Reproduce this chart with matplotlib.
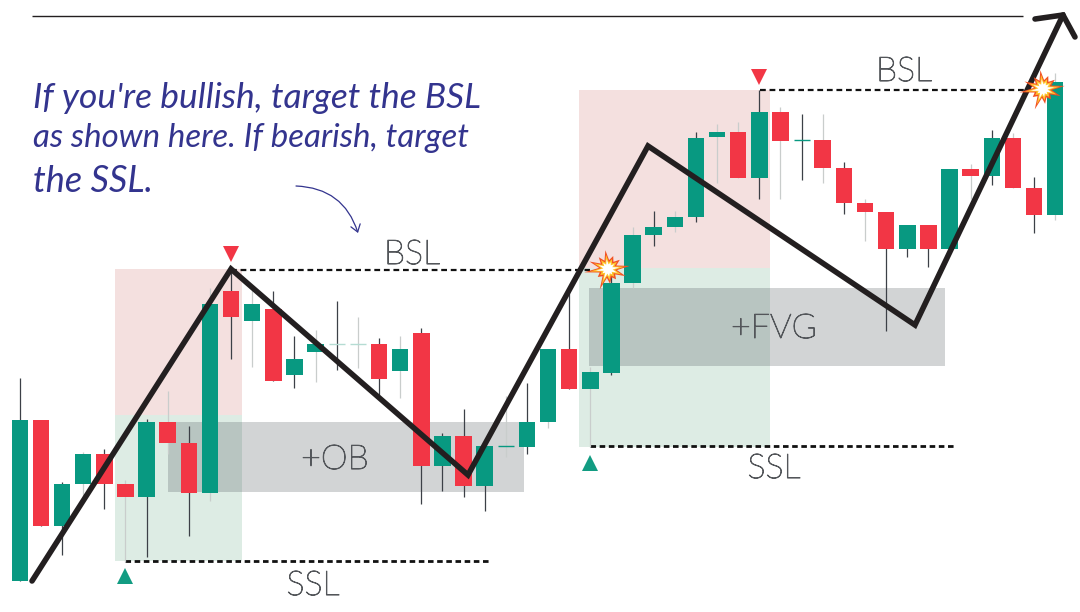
import matplotlib
matplotlib.use("Agg")
import matplotlib.pyplot as plt
import matplotlib.patheffects as pe
from matplotlib.patches import Rectangle, Polygon, FancyArrowPatch
import numpy as np

GREEN, RED = "#089981", "#f23645"
DARK_W, LIGHT_W = "#3c4047", "#c9cdcc"

# candle values (vertical pixel scale, top = 0)
opens  = [581,420,526,484,454,484,497,422,443,493,291,321,309,375,352,344,344,344,371,333,
          466,436,486,446,447,422,349,389,373,283,235,227,217,137,132,178,112,140,140,168,
          203,212,249,225,249,169,176,138,188,215]
closes = [420,526,484,454,484,497,422,443,493,304,317,304,381,359,344,344,344,379,349,466,
          436,486,446,446,422,349,389,372,283,235,227,217,138,132,178,112,141,140,168,203,
          212,249,225,249,169,176,138,188,215,82]
highs  = [378,420,482,452,449,480,419,391,426,288,270,290,291,336,330,301,317,338,336,328,
          433,409,446,396,383,349,293,367,275,227,211,211,132,124,122,90,107,114,114,162,
          199,212,225,225,169,164,130,133,177,73]
lows   = [581,526,555,498,509,562,557,454,536,501,359,367,381,388,382,370,368,395,398,504,
          491,497,511,457,454,428,389,447,375,288,246,232,222,183,178,199,199,180,183,214,
          241,331,257,267,249,199,185,188,233,220]
wick_dark = [1,1,1,0,1,0,1,0,1,0,1,0,1,1,0,1,0,1,0,1,
             1,1,1,0,1,0,1,0,1,0,1,0,1,0,0,1,0,1,0,1,
             0,1,1,1,1,0,1,0,1,0]

# overlay annotations (pixel scale)
zones_red = [(115,269,242,415),(579,90,770,268)]
zones_green = [(115,415,242,561),(579,268,770,447)]
zones_grey = [(168,422,524,492),(589,288,945,366)]
bsl_lines = [(231,590,270),(760,1035,90)]
ssl_lines = [(125,490,561),(590,955,446)]
zigzag_x = [32,231,468,648,915,1063]
zigzag_y = [581,269,475,146,325,15]
head_x = [1035,1063,1075]
head_y = [19,15,37]
labels = [("BSL",412,255),("SSL",313,586),("BSL",904,72),("SSL",774,469),("+OB",335,460),("+FVG",774,329)]
note = [("If you're bullish, target the BSL",33,98,25.5),("as shown here. If bearish, target",33,138,23.8),("the SSL.",33,181,26)]

W, H = 1080, 612
fig = plt.figure(figsize=(W/100, H/100), dpi=100, facecolor="white")

def full(z):
    a = fig.add_axes([0,0,1,1], zorder=z)
    a.set_ylim(H,0)
    a.axis("off")
    a.patch.set_alpha(0)
    return a

bg = full(1); bg.set_xlim(0,W)
ax = full(2)
x0, step = 19.8, 21.13
ax.set_xlim(-x0/step, (W-x0)/step)
top = full(3); top.set_xlim(0,W)

for x1,y1,x2,y2 in zones_red:
    bg.add_patch(Rectangle((x1,y1),x2-x1,y2-y1,fc="#f4e0df",ec="none"))
for x1,y1,x2,y2 in zones_green:
    bg.add_patch(Rectangle((x1,y1),x2-x1,y2-y1,fc="#ddece4",ec="none"))
for x1,y1,x2,y2 in zones_grey:
    bg.add_patch(Rectangle((x1,y1),x2-x1,y2-y1,fc="#40454d",alpha=0.23,ec="none"))

o, c, h, l = map(np.array,(opens,closes,highs,lows))
idx = np.arange(len(o))
dark = np.array(wick_dark,bool)
ax.vlines(idx[dark],h[dark],l[dark],color=DARK_W,lw=0.9,zorder=1)
ax.vlines(idx[~dark],h[~dark],l[~dark],color=LIGHT_W,lw=0.9,zorder=1)
colors = [GREEN if a>b else RED for a,b in zip(o,c)]
solid = o!=c
ax.bar(idx[solid],(c-o)[solid],bottom=o[solid],width=0.78,color=np.array(colors)[solid],zorder=2)
for i in idx[~solid]:
    faint = i in (15,16)
    ax.hlines(o[i],i-0.38,i+0.38,color="#b5dcd3" if faint else GREEN,lw=1.0,zorder=2)

for x1,x2,y in bsl_lines:
    bg.hlines(y,x1,x2,color="#111111",lw=1.6,linestyles=(0,(2.6,1.7)))
for x1,x2,y in ssl_lines:
    bg.hlines(y,x1,x2,color="#111111",lw=2.0,linestyles=(0,(2.0,1.3)))
top.hlines(16,32,1023,color="#231f20",lw=1.0)

# triangles
for x,y,col,d in [(125,568,"#129c82",1),(590,455,"#129c82",1),(231,262,RED,-1),(759,85,RED,-1)]:
    top.add_patch(Polygon([(x-8,y+16*d),(x+8,y+16*d),(x,y)],fc=col,ec="none"))

top.plot(zigzag_x,zigzag_y,color="#231f20",lw=4.0,solid_joinstyle="miter",solid_capstyle="round",zorder=5)
top.plot(head_x,head_y,color="#231f20",lw=4.0,solid_joinstyle="miter",solid_capstyle="round",zorder=5)

# explosions
def burst(cx,cy):
    ang = np.deg2rad(np.arange(0,360,30)+8)
    outer = np.array([22,15,14,19,15,20,24,13,22,15,13,19])
    pts = []
    for a,r in zip(ang,outer):
        pts.append((cx+r*np.cos(a),cy-r*np.sin(a)))
        a2 = a+np.deg2rad(15)
        pts.append((cx+9*np.cos(a2),cy-9*np.sin(a2)))
    pts = np.array(pts)
    c0 = np.array([cx,cy])
    top.add_patch(Polygon(pts,fc="#f25022",ec="none",zorder=6))
    top.add_patch(Polygon(c0+(pts-c0)*0.76,fc="#fdc62e",ec="none",zorder=7))
    top.add_patch(Polygon(c0+(pts-c0)*0.52,fc="white",ec="none",zorder=8))
for cx,cy in [(608,269),(1043,89)]:
    burst(cx,cy)

for s,x,y in labels:
    top.text(x,y,s,ha="center",va="center",family="Lato",fontweight="light",fontsize=24.5,color="#53565a",zorder=9,
             path_effects=[pe.withStroke(linewidth=0.7,foreground="#53565a")])
for s,x,y,fs in note:
    top.text(x,y,s,ha="left",va="center",family="Lato",style="italic",fontsize=fs,color="#33348e",zorder=9)

top.add_patch(FancyArrowPatch((296,186),(358,233),connectionstyle="arc3,rad=-0.35",arrowstyle="->,head_length=5,head_width=3.5",
                              color="#33348e",lw=0.9,shrinkA=0,shrinkB=0,zorder=9))

fig.savefig("out.png",dpi=100)
